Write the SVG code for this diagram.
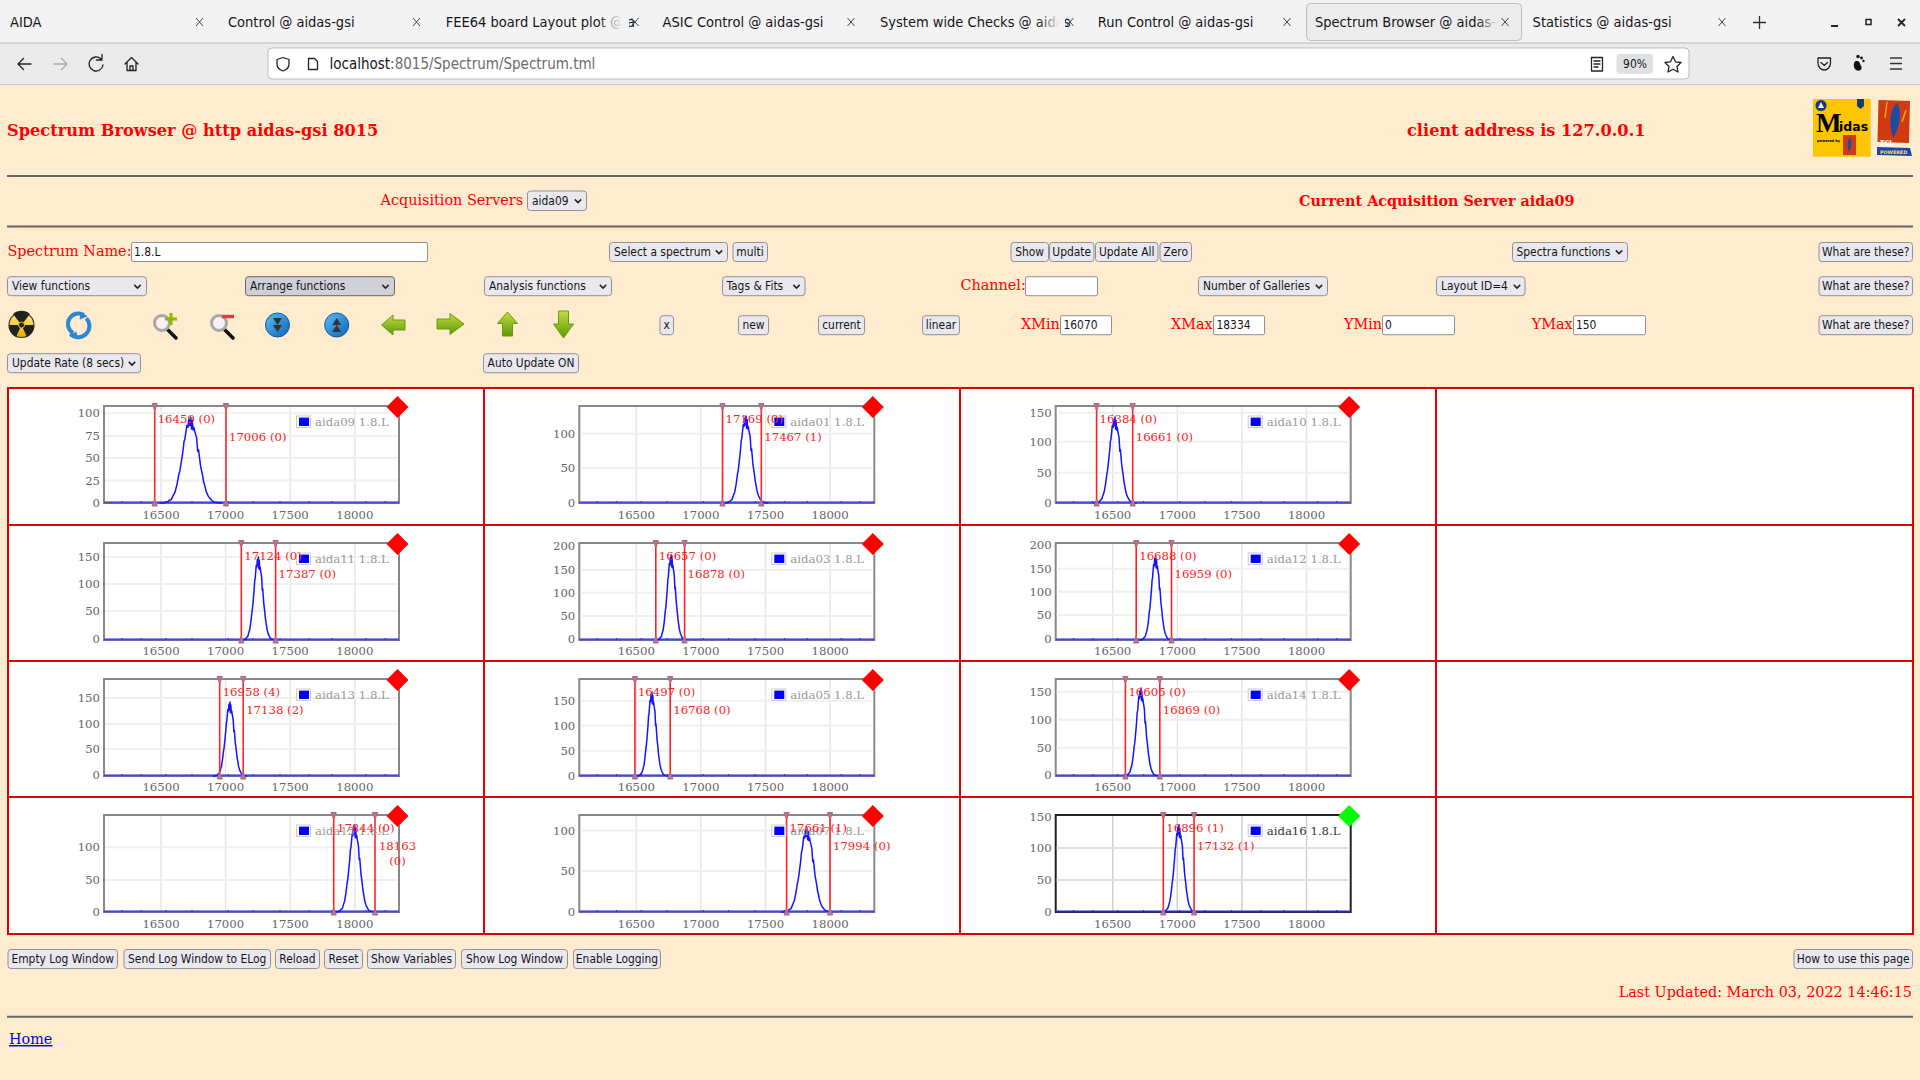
<svg xmlns="http://www.w3.org/2000/svg" width="1920" height="1080" viewBox="0 0 1920 1080">
<style>
.ui{font-family:"DejaVu Sans Condensed","DejaVu Sans",sans-serif;font-stretch:condensed;font-size:11.9px;fill:#15141a}
.c{text-anchor:middle}
.tab{font-family:"DejaVu Sans Condensed","DejaVu Sans",sans-serif;font-stretch:condensed;font-size:14.5px;fill:#15141a}
.b{fill:#e9e9ed;stroke:#8f8f9d;stroke-width:1}
.ba{fill:#d0d0d7;stroke:#676774;stroke-width:1}
.in{fill:#fff;stroke:#8f8f9d;stroke-width:1}
.r{font-family:"DejaVu Serif",serif;font-size:14.4px;fill:#f00}
.rb{font-family:"DejaVu Serif",serif;font-size:16.2px;font-weight:700;fill:#f00}
.hr{stroke:#666;stroke-width:2}
.cell{fill:#fff;stroke:#e00000;stroke-width:2}
.tx{font-family:"DejaVu Serif",serif;font-size:11.7px;fill:#666;text-anchor:middle}
.ty{font-family:"DejaVu Serif",serif;font-size:11.7px;fill:#666;text-anchor:end}
.leg{font-family:"DejaVu Serif",serif;font-size:11.7px;fill:#999}
.ml{font-family:"DejaVu Serif",serif;font-size:11.7px;fill:#f22}
.gh{stroke:#f0f0f0;stroke-width:2}
.gh2{stroke:#e0e0e0;stroke-width:2}
.pk{fill:none;stroke:#1414ff;stroke-width:1.5;vector-effect:non-scaling-stroke;stroke-linejoin:round}
.ic{fill:none;stroke:#222;stroke-width:1.3;stroke-linecap:round;stroke-linejoin:round}
</style>
<defs>
<linearGradient id="gg" x1="0" y1="0" x2="0" y2="1"><stop offset="0" stop-color="#c4dc40"/><stop offset="1" stop-color="#5c9a08"/></linearGradient>
<linearGradient id="gb" x1="0" y1="0" x2="1" y2="1"><stop offset="0" stop-color="#5cc0f5"/><stop offset="1" stop-color="#0a62b8"/></linearGradient>
<linearGradient id="gy" x1="0" y1="0" x2="0" y2="1"><stop offset="0" stop-color="#fff080"/><stop offset="1" stop-color="#e8a800"/></linearGradient>
<linearGradient id="fd" x1="0" y1="0" x2="1" y2="0"><stop offset="0" stop-color="#f3f3f3" stop-opacity="0"/><stop offset="1" stop-color="#f3f3f3"/></linearGradient>
<linearGradient id="fa" x1="0" y1="0" x2="1" y2="0"><stop offset="0" stop-color="#ececec" stop-opacity="0"/><stop offset="1" stop-color="#ececec"/></linearGradient>
<path id="chev" d="M-3.2 -1.6L0 1.6L3.2 -1.6" fill="none" stroke="#222" stroke-width="1.5"/>
<g id="grid">
<rect x="0" y="0" width="295" height="97" fill="#fff" stroke="#888" stroke-width="2"/>
<path d="M57 1V96M121.6 1V96M186.2 1V96M250.8 1V96" stroke="#e6e6e6" stroke-width="1.4"/>
</g>
<g id="grid2">
<rect x="0" y="0" width="295" height="97" fill="#fff" stroke="#222" stroke-width="2"/>
<path d="M57 1V96M121.6 1V96M186.2 1V96M250.8 1V96" stroke="#ccc" stroke-width="1.4"/>
</g>
<g id="base">
<path d="M0 96.4H295" stroke="#2a2aff" stroke-opacity=".7" stroke-width="2.2"/>
<path d="M18 96V95M37 96V95M62 96V95M88 96V95M124 96V95M149 96V95M176 96V95M205 96V95M228 96V95M262 96V95M281 96V95" stroke="#1414ff" stroke-width="1"/>
</g>
<path id="peak" class="pk" d="M-4 0L-3.5 0-3 -.012-2.75 -.03-2.5 -.04-2.25 -.085-2 -.13-1.75 -.22-1.5 -.34-1.4 -.37-1.25 -.45-1 -.6-.85 -.72-.75 -.74-.5 -.9-.35 -.88-.25 -.97-.12 -.9 0 -1 .1 -.86 .2 -.96 .3 -.85 .4 -.88 .5 -.84 .75 -.76 .9 -.6 1 -.62 1.25 -.44 1.5 -.33 1.65 -.25 1.75 -.22 2 -.13 2.25 -.08 2.5 -.05 2.75 -.025 3 -.012 3.5 -.004 4 0"/>
<g id="mk">
<path d="M0 0V97" stroke="#f22" stroke-width="1.6"/>
<path d="M-2.6 -2.5H2.6L0 4.5Z M-2.6 100H2.6L0 93Z" fill="#6f93b8" stroke="#e85060" stroke-width="1"/>
</g>
<g id="lg">
<rect x="192.5" y="10" width="14" height="11.5" fill="#fff" stroke="#ccc" stroke-width="1"/>
<rect x="195" y="11.6" width="10" height="8.4" fill="#00f"/>
</g>
<path id="rd" d="M0 -11L11 0L0 11L-11 0Z" fill="#f00"/>
<path id="gd" d="M0 -11L11 0L0 11L-11 0Z" fill="#0f0"/>
</defs>

<rect width="1920" height="1080" fill="#ffebcd"/>

<g id="browser-tabs">
<rect x="0" y="0" width="1920" height="43" fill="#f3f3f3"/>
<rect x="0" y="43" width="1920" height="41" fill="#ebebeb"/>
<path d="M0 43H1920" stroke="#b8b8b8" stroke-width="1"/>
<path d="M0 84.5H1920" stroke="#c4c4c4" stroke-width="1"/>
<rect x="1306.6" y="3.5" width="215" height="37" rx="4" fill="#ececec" stroke="#bdbdbd" stroke-width="1"/>
<text class="tab" x="10" y="27">AIDA</text>
<text class="tab" x="228" y="27">Control @ aidas-gsi</text>
<text class="tab" x="445.8" y="27">FEE64 board Layout plot @ a</text>
<rect x="598" y="8" width="24" height="30" fill="url(#fd)"/><rect x="622" y="8" width="7" height="30" fill="#f3f3f3"/>
<text class="tab" x="662.6" y="27">ASIC Control @ aidas-gsi</text>
<text class="tab" x="880" y="27">System wide Checks @ aidas</text>
<rect x="1038" y="8" width="22" height="30" fill="url(#fd)"/><rect x="1060" y="8" width="5" height="30" fill="#f3f3f3"/>
<text class="tab" x="1097.8" y="27">Run Control @ aidas-gsi</text>
<text class="tab" x="1315" y="27">Spectrum Browser @ aidas-gsi</text>
<rect x="1478" y="8" width="20" height="30" fill="url(#fa)"/><rect x="1497" y="8" width="22" height="30" fill="#ececec"/>
<text class="tab" x="1532.6" y="27">Statistics @ aidas-gsi</text>
<g fill="none" stroke="#444" stroke-width="1">
<path d="M196 18L203 26M203 18L196 26M413 18L420 26M420 18L413 26M631.5 18L638.5 26M638.5 18L631.5 26M847.5 18L854.5 26M854.5 18L847.5 26M1066.5 18L1073.5 26M1073.5 18L1066.5 26M1283.5 18L1290.5 26M1290.5 18L1283.5 26M1501.5 18L1508.5 26M1508.5 18L1501.5 26M1718.5 18L1725.5 26M1725.5 18L1718.5 26"/>
<path d="M1759.5 16V29M1753 22.5H1766" stroke="#333" stroke-width="1.3"/>
</g>
<path d="M1831 26H1838" stroke="#222" stroke-width="2"/>
<rect x="1866" y="19.5" width="5" height="5" fill="none" stroke="#222" stroke-width="1.5"/>
<path d="M1898 19L1905 26M1905 19L1898 26" stroke="#222" stroke-width="1.8"/>
</g>

<g id="browser-nav">
<path class="ic" d="M31 64H18M23.5 58.5L18 64L23.5 69.5"/>
<path class="ic" d="M54 64H67M61.5 58.5L67 64L61.5 69.5" style="stroke:#aaa"/>
<path class="ic" d="M101 59A7 7 0 1 0 103 65M102 54.5V60H96.5"/>
<path class="ic" d="M125 64L131.5 57.5L138 64M127 62.5V70.5H136V62.5M130 70.5V66H133V70.5"/>
<rect x="268" y="48" width="1421" height="31" rx="4" fill="#fff" stroke="#bdbdbd" stroke-width="1"/>
<path class="ic" d="M283 57.5L289 59.5V64C289 67.5 286 70 283 71C280 70 277 67.5 277 64V59.5Z"/>
<path class="ic" d="M308.5 58.5H314.5L317.5 61.5V69.5H308.5Z"/>
<text class="ui" x="329.5" y="69" style="font-size:15px">localhost<tspan fill="#6b6b6b">:8015/Spectrum/Spectrum.tml</tspan></text>
<path class="ic" d="M1591.5 57.5H1602.5V71H1591.5ZM1594 61H1600M1594 64H1600M1594 67H1598"/>
<rect x="1616.5" y="54" width="36.5" height="19.7" rx="3" fill="#e0e0e0"/>
<text class="ui c" x="1635" y="68.3">90%</text>
<path class="ic" d="M1673 56.5L1675.5 61.8L1681 62.5L1677 66.5L1678 72L1673 69.3L1668 72L1669 66.5L1665 62.5L1670.5 61.8Z"/>
<path class="ic" d="M1818 58H1830.5V63C1830.5 67 1827.5 70 1824.3 70C1821 70 1818 67 1818 63ZM1821 62.5L1824.3 65.5L1827.5 62.5"/>
<path d="M1856 61C1853 62 1853 68 1856 70C1860 72 1863 69 1861 66C1860 64 1860 62 1858 61Z" fill="#111"/>
<circle cx="1858" cy="56.5" r="1.7" fill="#111"/><circle cx="1861.5" cy="58" r="1.4" fill="#111"/><circle cx="1863.5" cy="61" r="1.2" fill="#111"/>
<path d="M1890 58H1902M1890 63.5H1902M1890 69H1902" stroke="#333" stroke-width="1.3"/>
</g>

<g id="page-header">
<text class="rb" x="7" y="136">Spectrum Browser @ http aidas-gsi 8015</text>
<text class="rb" x="1407" y="136">client address is 127.0.0.1</text>
<g id="logo-midas">
<rect x="1813" y="99" width="57.7" height="57.7" fill="#fbc500"/>
<circle cx="1821" cy="105.5" r="5.5" fill="#123a78"/>
<path d="M1818 108L1821 102L1824 108Z" fill="#fff"/>
<path d="M1857 99H1864V106L1860.5 109L1857 106Z" fill="#123a78"/>
<text x="1816" y="132" style="font-family:'Liberation Serif',serif;font-size:27px;font-weight:700;fill:#000">M</text>
<text x="1839" y="131" style="font-family:'DejaVu Sans',sans-serif;font-size:12.5px;font-weight:700;fill:#000">idas</text>
<text x="1817" y="141.5" style="font-family:'DejaVu Sans',sans-serif;font-size:3.5px;font-weight:700;fill:#000">powered by</text>
<rect x="1843" y="135" width="13" height="20" fill="#cf3a10"/>
<path d="M1850 137C1846 142 1848 148 1849 152C1851 148 1853 142 1850 137Z" fill="#1c4aa8"/>
</g>
<g id="logo-tcl">
<path d="M1878.5 100L1910 101L1909 143L1877.5 142Z" fill="#cf3a10"/>
<path d="M1877 147L1910 148L1912 156L1877 155Z" fill="#1a44b0"/>
<path d="M1897 103C1889 110 1889 125 1893 138C1899 128 1903 113 1897 103Z" fill="#1c4aa8"/>
<path d="M1887 102L1885 118M1906 110L1902 122" stroke="#f0a020" stroke-width="1.5" fill="none"/>
<text x="1880" y="145" style="font-family:'DejaVu Sans',sans-serif;font-size:6.5px;font-weight:700;fill:#fff">TCL</text>
<text x="1880" y="153.500" style="font-family:'DejaVu Sans',sans-serif;font-size:4.8px;font-weight:700;fill:#ffe040">POWERED</text>
</g>
<path class="hr" d="M7 176H1913"/>
<text class="r" x="380.5" y="205">Acquisition Servers</text>
<rect class="b" x="527.5" y="191" width="59" height="19.5" rx="3"/>
<text class="ui" x="532" y="205">aida09</text>
<use href="#chev" x="578" y="201"/>
<text class="rb" x="1299" y="205.500" style="font-size:14.35px">Current Acquisition Server aida09</text>
<path class="hr" d="M7 226.5H1913"/>
</g>

<g id="controls">
<text class="r" x="7.5" y="256">Spectrum Name:</text>
<rect class="in" x="131.5" y="242.5" width="296" height="19" rx="1.5"/>
<text class="ui" x="134" y="256">1.8.L</text>
<rect class="b" x="609.5" y="242.5" width="118" height="19" rx="3"/>
<text class="ui" x="614" y="256">Select a spectrum</text>
<use href="#chev" x="719" y="252"/>
<rect class="b" x="733" y="242.5" width="34.5" height="19" rx="3"/><text class="ui c" x="750" y="256">multi</text>
<rect class="b" x="1011" y="242.5" width="37.5" height="19" rx="3"/><text class="ui c" x="1029.7" y="256">Show</text>
<rect class="b" x="1049.5" y="242.5" width="44.5" height="19" rx="3"/><text class="ui c" x="1071.7" y="256">Update</text>
<rect class="b" x="1095.5" y="242.5" width="62.5" height="19" rx="3"/><text class="ui c" x="1126.7" y="256">Update All</text>
<rect class="b" x="1160" y="242.5" width="31.5" height="19" rx="3"/><text class="ui c" x="1175.7" y="256">Zero</text>
<rect class="b" x="1512.5" y="242.5" width="115" height="19" rx="3"/><text class="ui" x="1516.5" y="256">Spectra functions</text>
<use href="#chev" x="1619" y="252"/>
<rect class="b" x="1819" y="242.5" width="93.5" height="19" rx="3"/><text class="ui c" x="1865.7" y="256">What are these?</text>

<rect class="b" x="7.5" y="276.7" width="139" height="19" rx="3"/><text class="ui" x="12" y="290.3">View functions</text>
<use href="#chev" x="137.5" y="286.5"/>
<rect class="ba" x="245.5" y="276.7" width="149" height="19" rx="3"/><text class="ui" x="250" y="290.3">Arrange functions</text>
<use href="#chev" x="385.5" y="286.5"/>
<rect class="b" x="484.5" y="276.7" width="127" height="19" rx="3"/><text class="ui" x="489" y="290.3">Analysis functions</text>
<use href="#chev" x="603" y="286.5"/>
<rect class="b" x="722.5" y="276.7" width="82.5" height="19" rx="3"/><text class="ui" x="726.5" y="290.3">Tags &amp; Fits</text>
<use href="#chev" x="796.5" y="286.5"/>
<text class="r" x="960.4" y="289.5">Channel:</text>
<rect class="in" x="1025.5" y="276.7" width="72" height="19" rx="1.5"/>
<rect class="b" x="1198.5" y="276.7" width="129" height="19" rx="3"/><text class="ui" x="1203" y="290.3">Number of Galleries</text>
<use href="#chev" x="1319" y="286.5"/>
<rect class="b" x="1436.5" y="276.7" width="88.5" height="19" rx="3"/><text class="ui" x="1441" y="290.3">Layout ID=4</text>
<use href="#chev" x="1517" y="286.5"/>
<rect class="b" x="1819" y="276.7" width="93.5" height="19" rx="3"/><text class="ui c" x="1865.7" y="290.3">What are these?</text>

<g id="icon-radiation">
<circle cx="21.5" cy="325" r="12.5" fill="url(#gy)" stroke="#333" stroke-width="1.2"/>
<path d="M21.5 325L13 314A13 13 0 0 1 30 314Z M21.5 325L34 325A13 13 0 0 1 27 337Z M21.5 325L16 337A13 13 0 0 1 9 325Z" fill="#222"/>
<circle cx="21.5" cy="325" r="3" fill="#222" stroke="#f5c400"/>
</g>
<g id="icon-refresh" fill="none" stroke="#2c86d8" stroke-width="4">
<path d="M84 315A10 10 0 0 0 73 333"/><path d="M72 335A10 10 0 0 0 85 317" transform="rotate(10 78 325)"/>
<path d="M76 332L77 337L70 336Z M81 314L80 319L87 316Z" fill="#2c86d8" stroke-width="1"/>
</g>
<g id="icon-zoom-in">
<path d="M167 329L176 338" stroke="#111" stroke-width="3.5" stroke-linecap="round"/>
<circle cx="162" cy="323" r="7.5" fill="#f4f4f4" stroke="#a8a8a8" stroke-width="3"/>
<path d="M171 313V325M165 319H177" stroke="#8cb800" stroke-width="3"/>
</g>
<g id="icon-zoom-out">
<path d="M224 329L233 338" stroke="#111" stroke-width="3.5" stroke-linecap="round"/>
<circle cx="219" cy="323" r="7.5" fill="#f4f4f4" stroke="#a8a8a8" stroke-width="3"/>
<path d="M222 316.5H234" stroke="#d84040" stroke-width="3.5"/>
</g>
<g id="icon-down">
<circle cx="277.5" cy="325" r="12" fill="url(#gb)" stroke="#0a5aa8" stroke-width="1"/>
<path d="M273 318L277.5 325L282 318ZM273 325L277.5 332L282 325Z" fill="#333"/>
</g>
<g id="icon-up">
<circle cx="336.7" cy="325" r="12" fill="url(#gb)" stroke="#0a5aa8" stroke-width="1"/>
<path d="M332.2 325L336.7 318L341.2 325ZM332.2 332L336.7 325L341.2 332Z" fill="#333"/>
</g>
<path id="icon-left" d="M381.6 325L393 315V320H405V330H393V335Z" fill="url(#gg)" stroke="#6a9a10" stroke-width="1"/>
<path id="icon-right" d="M464 324L450 313.5V319H437V329H450V334.5Z" fill="url(#gg)" stroke="#6a9a10" stroke-width="1"/>
<path id="icon-arrow-up" d="M507.5 312L517.5 323.5H512.5V336H502.5V323.5H497.5Z" fill="url(#gg)" stroke="#6a9a10" stroke-width="1"/>
<path id="icon-arrow-down" d="M563.5 338L573.5 324H568.5V311H558.5V324H553.5Z" fill="url(#gg)" stroke="#6a9a10" stroke-width="1"/>

<rect class="b" x="660" y="315.7" width="13.5" height="19" rx="3"/><text class="ui c" x="666.7" y="329.3">x</text>
<rect class="b" x="738.5" y="315.7" width="30" height="19" rx="3"/><text class="ui c" x="753.5" y="329.3">new</text>
<rect class="b" x="818.5" y="315.7" width="46" height="19" rx="3"/><text class="ui c" x="841.5" y="329.3">current</text>
<rect class="b" x="922.5" y="315.7" width="37" height="19" rx="3"/><text class="ui c" x="941" y="329.3">linear</text>
<text class="r" x="1021" y="329">XMin</text>
<rect class="in" x="1060.5" y="315.7" width="51" height="19" rx="1.5"/><text class="ui" x="1063.5" y="329.3">16070</text>
<text class="r" x="1171" y="329">XMax</text>
<rect class="in" x="1213.5" y="315.7" width="51" height="19" rx="1.5"/><text class="ui" x="1216.5" y="329.3">18334</text>
<text class="r" x="1344" y="329">YMin</text>
<rect class="in" x="1382.5" y="315.7" width="72" height="19" rx="1.5"/><text class="ui" x="1385" y="329.3">0</text>
<text class="r" x="1531.8" y="329">YMax</text>
<rect class="in" x="1573.5" y="315.7" width="72" height="19" rx="1.5"/><text class="ui" x="1576" y="329.3">150</text>
<rect class="b" x="1819" y="315.7" width="93.5" height="19" rx="3"/><text class="ui c" x="1865.7" y="329.3">What are these?</text>

<rect class="b" x="7.5" y="353.7" width="133" height="19" rx="3"/><text class="ui" x="12" y="367.3">Update Rate (8 secs)</text>
<use href="#chev" x="132" y="363.5"/>
<rect class="b" x="483.5" y="353.7" width="95" height="19" rx="3"/><text class="ui c" x="531" y="367.3">Auto Update ON</text>
</g>

<g id="table">
<rect class="cell" x="8" y="388" width="476" height="137"/><rect class="cell" x="484" y="388" width="476" height="137"/><rect class="cell" x="960" y="388" width="476" height="137"/><rect class="cell" x="1436" y="388" width="477" height="137"/>
<rect class="cell" x="8" y="525" width="476" height="136"/><rect class="cell" x="484" y="525" width="476" height="136"/><rect class="cell" x="960" y="525" width="476" height="136"/><rect class="cell" x="1436" y="525" width="477" height="136"/>
<rect class="cell" x="8" y="661" width="476" height="136"/><rect class="cell" x="484" y="661" width="476" height="136"/><rect class="cell" x="960" y="661" width="476" height="136"/><rect class="cell" x="1436" y="661" width="477" height="136"/>
<rect class="cell" x="8" y="797" width="476" height="137"/><rect class="cell" x="484" y="797" width="476" height="137"/><rect class="cell" x="960" y="797" width="476" height="137"/><rect class="cell" x="1436" y="797" width="477" height="137"/>
</g>

<g id="plot-aida09" transform="translate(104,406)">
<use href="#grid"/><path class="gh" d="M1 7.3H294M1 30H294M1 52H294M1 74.5H294"/><use href="#base"/>
<use href="#peak" transform="translate(86.7,97) scale(7.8,86)"/>
<use href="#mk" x="50.7"/><use href="#mk" x="122"/><use href="#lg"/>
<text class="ty" x="-4" y="11.3">100</text><text class="ty" x="-4" y="34">75</text><text class="ty" x="-4" y="56">50</text><text class="ty" x="-4" y="78.5">25</text><text class="ty" x="-4" y="100.7">0</text>
<text class="tx" x="57" y="112.7">16500</text><text class="tx" x="121.6" y="112.7">17000</text><text class="tx" x="186.2" y="112.7">17500</text><text class="tx" x="250.8" y="112.7">18000</text>
<text class="leg" x="211" y="19.7">aida09 1.8.L</text>
<text class="ml" x="53.7" y="17">16459 (0)</text><text class="ml" x="125" y="35">17006 (0)</text>
<use href="#rd" x="293.5" y="1"/>
</g>
<g id="plot-aida01" transform="translate(579.3,406)">
<use href="#grid"/><path class="gh" d="M1 27.8H294M1 62H294"/><use href="#base"/>
<use href="#peak" transform="translate(166.7,97) scale(5.6,87)"/>
<use href="#mk" x="143.2"/><use href="#mk" x="182"/><use href="#lg"/>
<text class="ty" x="-4" y="31.8">100</text><text class="ty" x="-4" y="66">50</text><text class="ty" x="-4" y="101">0</text>
<text class="tx" x="57" y="112.7">16500</text><text class="tx" x="121.6" y="112.7">17000</text><text class="tx" x="186.2" y="112.7">17500</text><text class="tx" x="250.8" y="112.7">18000</text>
<text class="leg" x="211" y="19.7">aida01 1.8.L</text>
<text class="ml" x="146.2" y="17">17169 (0)</text><text class="ml" x="185" y="35">17467 (1)</text>
<use href="#rd" x="293.5" y="1"/>
</g>
<g id="plot-aida10" transform="translate(1055.7,406)">
<use href="#grid"/><path class="gh" d="M1 6.7H294M1 35.7H294M1 66.7H294"/><use href="#base"/>
<use href="#peak" transform="translate(59.3,97) scale(5.4,86)"/>
<use href="#mk" x="40.9"/><use href="#mk" x="77"/><use href="#lg"/>
<text class="ty" x="-4" y="11.2">150</text><text class="ty" x="-4" y="39.7">100</text><text class="ty" x="-4" y="70.7">50</text><text class="ty" x="-4" y="101">0</text>
<text class="tx" x="57" y="112.7">16500</text><text class="tx" x="121.6" y="112.7">17000</text><text class="tx" x="186.2" y="112.7">17500</text><text class="tx" x="250.8" y="112.7">18000</text>
<text class="leg" x="211" y="19.7">aida10 1.8.L</text>
<text class="ml" x="43.9" y="17">16384 (0)</text><text class="ml" x="80" y="35">16661 (0)</text>
<use href="#rd" x="293.5" y="1"/>
</g>

<g id="plot-aida11" transform="translate(104,543)">
<use href="#grid"/><path class="gh" d="M1 14H294M1 41H294M1 68H294"/><use href="#base"/>
<use href="#peak" transform="translate(154.4,97) scale(4.3,83)"/>
<use href="#mk" x="137.3"/><use href="#mk" x="171.6"/><use href="#lg"/>
<text class="ty" x="-4" y="18">150</text><text class="ty" x="-4" y="45">100</text><text class="ty" x="-4" y="72">50</text><text class="ty" x="-4" y="100">0</text>
<text class="tx" x="57" y="112.2">16500</text><text class="tx" x="121.6" y="112.2">17000</text><text class="tx" x="186.2" y="112.2">17500</text><text class="tx" x="250.8" y="112.2">18000</text>
<text class="leg" x="211" y="19.7">aida11 1.8.L</text>
<text class="ml" x="140.3" y="17">17124 (0)</text><text class="ml" x="174.6" y="35">17387 (0)</text>
<use href="#rd" x="293.5" y="1"/>
</g>
<g id="plot-aida03" transform="translate(579.3,543)">
<use href="#grid"/><path class="gh" d="M1 27H294M1 49.7H294M1 73H294"/><use href="#base"/>
<use href="#peak" transform="translate(92,97) scale(4,85)"/>
<use href="#mk" x="76.5"/><use href="#mk" x="105.3"/><use href="#lg"/>
<text class="ty" x="-4" y="7">200</text><text class="ty" x="-4" y="31">150</text><text class="ty" x="-4" y="53.7">100</text><text class="ty" x="-4" y="77">50</text><text class="ty" x="-4" y="100">0</text>
<text class="tx" x="57" y="112.2">16500</text><text class="tx" x="121.6" y="112.2">17000</text><text class="tx" x="186.2" y="112.2">17500</text><text class="tx" x="250.8" y="112.2">18000</text>
<text class="leg" x="211" y="19.7">aida03 1.8.L</text>
<text class="ml" x="79.5" y="17">16657 (0)</text><text class="ml" x="108.3" y="35">16878 (0)</text>
<use href="#rd" x="293.5" y="1"/>
</g>
<g id="plot-aida12" transform="translate(1055.7,543)">
<use href="#grid"/><path class="gh" d="M1 25.7H294M1 48.7H294M1 72H294"/><use href="#base"/>
<use href="#peak" transform="translate(100,97) scale(4.2,84)"/>
<use href="#mk" x="80.5"/><use href="#mk" x="115.8"/><use href="#lg"/>
<text class="ty" x="-4" y="6">200</text><text class="ty" x="-4" y="29.7">150</text><text class="ty" x="-4" y="52.7">100</text><text class="ty" x="-4" y="76">50</text><text class="ty" x="-4" y="100">0</text>
<text class="tx" x="57" y="112.2">16500</text><text class="tx" x="121.6" y="112.2">17000</text><text class="tx" x="186.2" y="112.2">17500</text><text class="tx" x="250.8" y="112.2">18000</text>
<text class="leg" x="211" y="19.7">aida12 1.8.L</text>
<text class="ml" x="83.5" y="17">16688 (0)</text><text class="ml" x="118.8" y="35">16959 (0)</text>
<use href="#rd" x="293.5" y="1"/>
</g>

<g id="plot-aida13" transform="translate(104,679)">
<use href="#grid"/><path class="gh" d="M1 19H294M1 45H294M1 70H294"/><use href="#base"/>
<use href="#peak" transform="translate(126,97) scale(4.3,74)"/>
<use href="#mk" x="115.7"/><use href="#mk" x="139.2"/><use href="#lg"/>
<text class="ty" x="-4" y="23">150</text><text class="ty" x="-4" y="49">100</text><text class="ty" x="-4" y="74">50</text><text class="ty" x="-4" y="100">0</text>
<text class="tx" x="57" y="112.2">16500</text><text class="tx" x="121.6" y="112.2">17000</text><text class="tx" x="186.2" y="112.2">17500</text><text class="tx" x="250.8" y="112.2">18000</text>
<text class="leg" x="211" y="19.7">aida13 1.8.L</text>
<text class="ml" x="118.7" y="17">16958 (4)</text><text class="ml" x="142.2" y="35">17138 (2)</text>
<use href="#rd" x="293.5" y="1"/>
</g>
<g id="plot-aida05" transform="translate(579.3,679)">
<use href="#grid"/><path class="gh" d="M1 21.8H294M1 46.6H294M1 71.7H294"/><use href="#base"/>
<use href="#peak" transform="translate(72.7,97) scale(4,84)"/>
<use href="#mk" x="55.6"/><use href="#mk" x="90.9"/><use href="#lg"/>
<text class="ty" x="-4" y="25.8">150</text><text class="ty" x="-4" y="50.6">100</text><text class="ty" x="-4" y="75.7">50</text><text class="ty" x="-4" y="100.5">0</text>
<text class="tx" x="57" y="112.2">16500</text><text class="tx" x="121.6" y="112.2">17000</text><text class="tx" x="186.2" y="112.2">17500</text><text class="tx" x="250.8" y="112.2">18000</text>
<text class="leg" x="211" y="19.7">aida05 1.8.L</text>
<text class="ml" x="58.6" y="17">16497 (0)</text><text class="ml" x="93.9" y="35">16768 (0)</text>
<use href="#rd" x="293.5" y="1"/>
</g>
<g id="plot-aida14" transform="translate(1055.7,679)">
<use href="#grid"/><path class="gh" d="M1 12.7H294M1 40.7H294M1 68.7H294"/><use href="#base"/>
<use href="#peak" transform="translate(85.3,97) scale(4.5,88)"/>
<use href="#mk" x="69.7"/><use href="#mk" x="104.1"/><use href="#lg"/>
<text class="ty" x="-4" y="16.7">150</text><text class="ty" x="-4" y="44.7">100</text><text class="ty" x="-4" y="72.7">50</text><text class="ty" x="-4" y="100">0</text>
<text class="tx" x="57" y="112.2">16500</text><text class="tx" x="121.6" y="112.2">17000</text><text class="tx" x="186.2" y="112.2">17500</text><text class="tx" x="250.8" y="112.2">18000</text>
<text class="leg" x="211" y="19.7">aida14 1.8.L</text>
<text class="ml" x="72.7" y="17">16605 (0)</text><text class="ml" x="107.1" y="35">16869 (0)</text>
<use href="#rd" x="293.5" y="1"/>
</g>

<g id="plot-aida15" transform="translate(104,815)">
<use href="#grid"/><path class="gh" d="M1 32.3H294M1 65H294"/><use href="#base"/>
<use href="#peak" transform="translate(250.7,97) scale(5,87)"/>
<use href="#mk" x="229.7"/><use href="#mk" x="271"/><use href="#lg"/>
<text class="ty" x="-4" y="36.3">100</text><text class="ty" x="-4" y="69">50</text><text class="ty" x="-4" y="100.7">0</text>
<text class="tx" x="57" y="112.7">16500</text><text class="tx" x="121.6" y="112.7">17000</text><text class="tx" x="186.2" y="112.7">17500</text><text class="tx" x="250.8" y="112.7">18000</text>
<text class="leg" x="211" y="19.7">aida15 1.8.L</text>
<text class="ml" x="233" y="16.7">17844 (0)</text>
<text class="ml c" x="293.5" y="35">18163</text><text class="ml c" x="293.5" y="50">(0)</text>
<use href="#rd" x="293.5" y="1"/>
</g>
<g id="plot-aida07" transform="translate(579.3,815)">
<use href="#grid"/><path class="gh" d="M1 15.6H294M1 56H294"/><use href="#base"/>
<use href="#peak" transform="translate(227.7,97) scale(6.4,84)"/>
<use href="#mk" x="207.3"/><use href="#mk" x="250.7"/><use href="#lg"/>
<text class="ty" x="-4" y="19.6">100</text><text class="ty" x="-4" y="60">50</text><text class="ty" x="-4" y="101">0</text>
<text class="tx" x="57" y="112.7">16500</text><text class="tx" x="121.6" y="112.7">17000</text><text class="tx" x="186.2" y="112.7">17500</text><text class="tx" x="250.8" y="112.7">18000</text>
<text class="leg" x="211" y="19.7">aida07 1.8.L</text>
<text class="ml" x="210.3" y="17">17661 (1)</text><text class="ml" x="253.7" y="35">17994 (0)</text>
<use href="#rd" x="293.5" y="1"/>
</g>
<g id="plot-aida16" transform="translate(1055.7,815)">
<use href="#grid2"/><path class="gh2" d="M1 33H294M1 65H294"/><use href="#base"/>
<use href="#peak" transform="translate(123.3,97) scale(4.5,87)"/>
<use href="#mk" x="107.6"/><use href="#mk" x="138.4"/><use href="#lg"/>
<text class="ty" x="-4" y="5.7">150</text><text class="ty" x="-4" y="37">100</text><text class="ty" x="-4" y="69">50</text><text class="ty" x="-4" y="100.7">0</text>
<text class="tx" x="57" y="112.7">16500</text><text class="tx" x="121.6" y="112.7">17000</text><text class="tx" x="186.2" y="112.7">17500</text><text class="tx" x="250.8" y="112.7">18000</text>
<text class="leg" x="211" y="19.7" style="fill:#333">aida16 1.8.L</text>
<text class="ml" x="110.6" y="17">16896 (1)</text><text class="ml" x="141.4" y="35">17132 (1)</text>
<use href="#gd" x="293.5" y="1"/>
</g>

<g id="footer">
<rect class="b" x="8" y="949.5" width="109.5" height="19" rx="3"/><text class="ui c" x="62.7" y="963">Empty Log Window</text>
<rect class="b" x="124" y="949.5" width="146.5" height="19" rx="3"/><text class="ui c" x="197.2" y="963">Send Log Window to ELog</text>
<rect class="b" x="275.5" y="949.5" width="44" height="19" rx="3"/><text class="ui c" x="297.5" y="963">Reload</text>
<rect class="b" x="324.5" y="949.5" width="38" height="19" rx="3"/><text class="ui c" x="343.5" y="963">Reset</text>
<rect class="b" x="367.5" y="949.5" width="88" height="19" rx="3"/><text class="ui c" x="411.5" y="963">Show Variables</text>
<rect class="b" x="461.5" y="949.5" width="106" height="19" rx="3"/><text class="ui c" x="514.5" y="963">Show Log Window</text>
<rect class="b" x="573.5" y="949.5" width="87" height="19" rx="3"/><text class="ui c" x="617" y="963">Enable Logging</text>
<rect class="b" x="1794" y="949.5" width="118.5" height="19" rx="3"/><text class="ui c" x="1853.2" y="963">How to use this page</text>
<text class="r" x="1912" y="997" text-anchor="end">Last Updated: March 03, 2022 14:46:15</text>
<path class="hr" d="M7 1016.7H1913"/>
<text class="r" x="9" y="1044" style="fill:#00e;text-decoration:underline">Home</text>
</g>
</svg>
